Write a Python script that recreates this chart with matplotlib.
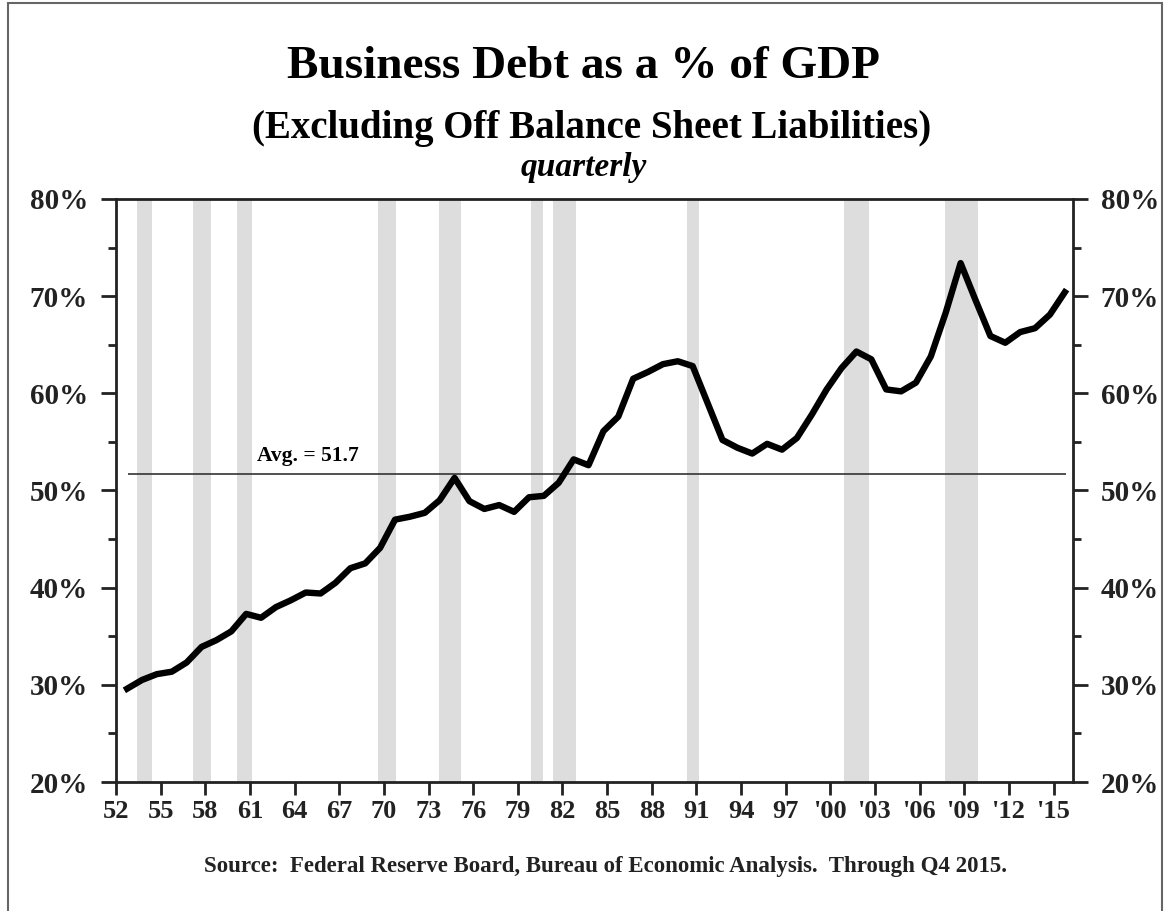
import matplotlib
matplotlib.use("Agg")
import matplotlib.pyplot as plt
from matplotlib.patches import Rectangle
from matplotlib.ticker import MultipleLocator, FuncFormatter

# Q4 values, business debt as % of GDP
years = list(range(1952, 2016))
debt_pct = [29.6, 30.5, 31.1, 31.35, 32.3, 33.9, 34.6, 35.5, 37.3, 36.9,
            38.0, 38.7, 39.5, 39.4, 40.5, 42.0, 42.5, 44.1, 47.0, 47.3,
            47.7, 49.0, 51.3, 48.9, 48.1, 48.5, 47.8, 49.3, 49.45, 50.8,
            53.2, 52.6, 56.1, 57.6, 61.5, 62.2, 63.0, 63.3, 62.8, 59.0,
            55.2, 54.4, 53.8, 54.8, 54.2, 55.4, 57.8, 60.4, 62.6, 64.3,
            63.5, 60.4, 60.2, 61.1, 63.8, 68.3, 73.4, 69.6, 65.9, 65.2,
            66.3, 66.7, 68.1, 70.4]
avg_level = 51.7

# recession periods (start, end) in fractional years
recessions = [(1953.4, 1954.4), (1957.2, 1958.4), (1960.15, 1961.15),
              (1969.6, 1970.8), (1973.7, 1975.2), (1979.9, 1980.7),
              (1981.35, 1982.9), (1990.35, 1991.15), (2000.9, 2002.6),
              (2007.7, 2009.9)]

tick_years = list(range(1952, 2016, 3))
tick_labels = ["52", "55", "58", "61", "64", "67", "70", "73", "76", "79",
               "82", "85", "88", "91", "94", "97", "'00", "'03", "'06",
               "'09", "'12", "'15"]

plt.rcParams['font.family'] = ['Liberation Serif', 'DejaVu Serif']
plt.rcParams['font.weight'] = 'bold'

fig = plt.figure(figsize=(11.76, 9.11), dpi=100)
ax = fig.add_axes([0.0986, 0.1416, 0.8138, 0.64])

for start, end in recessions:
    ax.axvspan(start, end, color='#dddddd', lw=0, zorder=0)

x = [y + 0.75 for y in years]
ax.plot(x, debt_pct, color='black', lw=4.6, solid_joinstyle='round', zorder=3)

ax.hlines(avg_level, 1952.8, 2015.85, color='#333333', lw=1.2, zorder=2)
ax.text(1961.5, avg_level + 0.8, 'Avg. = 51.7', fontsize=15.5, fontweight='bold',
        ha='left', va='bottom')

ax.set_xlim(1952, 2016.3)
ax.set_ylim(20, 80)
ax.set_xticks(tick_years)
ax.set_xticklabels(tick_labels)
ax.yaxis.set_major_locator(MultipleLocator(10))
ax.yaxis.set_minor_locator(MultipleLocator(5))
ax.yaxis.set_major_formatter(FuncFormatter(lambda v, p: '%d%%' % v))

ax.tick_params(axis='y', which='major', direction='out', length=11, width=2,
               labelsize=21, pad=9, left=True, right=True,
               labelleft=True, labelright=True, colors='#222222')
ax.tick_params(axis='y', which='minor', direction='out', length=6, width=2,
               left=True, right=True, colors='#222222')
ax.tick_params(axis='x', direction='out', length=9, width=2, labelsize=19,
               pad=4, colors='#222222')
for label in ax.get_xticklabels() + ax.get_yticklabels():
    label.set_fontweight('bold')
for side in ['left', 'right', 'top', 'bottom']:
    ax.spines[side].set_linewidth(2)
    ax.spines[side].set_color('#222222')

fig.text(0.496, 0.927, 'Business Debt as a % of GDP', ha='center', va='center',
         fontsize=34, fontweight='bold')
fig.text(0.503, 0.859, '(Excluding Off Balance Sheet Liabilities)', ha='center',
         va='center', fontsize=28, fontweight='bold')
fig.text(0.496, 0.816, 'quarterly', ha='center', va='center', fontsize=24,
         fontweight='bold', style='italic')
fig.text(0.515, 0.049,
         'Source:  Federal Reserve Board, Bureau of Economic Analysis.  Through Q4 2015.',
         ha='center', va='center', fontsize=16.5, fontweight='bold', color='#222222')

fig.patches.append(Rectangle((8 / 1176, -0.02), (1162 - 8) / 1176, 1.017,
                             transform=fig.transFigure, fill=False,
                             edgecolor='#666666', lw=1.5))

fig.savefig('out.png', dpi=100)
